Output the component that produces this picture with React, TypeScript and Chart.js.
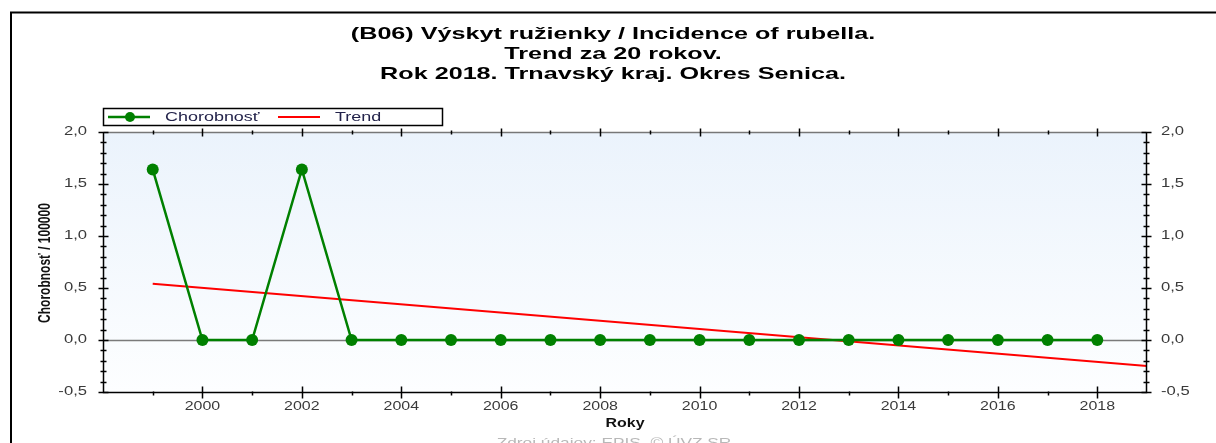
import React, { useEffect, useRef } from "react";
import { Chart, registerables } from "chart.js";

Chart.register(...registerables);

const titleLines = [
  "(B06) Výskyt ružienky / Incidence of rubella.",
  "Trend za 20 rokov.",
  "Rok 2018. Trnavský kraj. Okres Senica.",
];
const years = [1999, 2000, 2001, 2002, 2003, 2004, 2005, 2006, 2007, 2008, 2009, 2010, 2011, 2012, 2013, 2014, 2015, 2016, 2017, 2018];
const incidence = [1.64, 0, 0, 1.64, 0, 0, 0, 0, 0, 0, 0, 0, 0, 0, 0, 0, 0, 0, 0, 0];
const trendYears = [1999, 2019];
const trendValues = [0.54, -0.25];
const seriesLabels = ["Chorobnosť", "Trend"];
const xAxisTitle = "Roky";
const yAxisTitle = "Chorobnosť / 100000";
const sourceText = "Zdroj údajov: EPIS, © ÚVZ SR";

const SX = 1.33;
const FONT = "'Liberation Sans', Arial, sans-serif";
const GREEN = "#008000";
const RED = "#ff0000";

function stretchedText(ctx: CanvasRenderingContext2D, text: string, x: number, y: number, font: string, color: string, align: CanvasTextAlign, baseline: CanvasTextBaseline, sx: number = SX) {
  ctx.save();
  ctx.font = font;
  ctx.fillStyle = color;
  ctx.textAlign = align;
  ctx.textBaseline = baseline;
  ctx.translate(x, y);
  ctx.scale(sx, 1);
  ctx.fillText(text, 0, 0);
  ctx.restore();
}

const fmt = (v: number) => v.toFixed(1).replace(".", ",");

const decorPlugin = {
  id: "decor",
  beforeDatasetsDraw(chart: any) {
    const { ctx, chartArea: a } = chart;
    const y = chart.scales.y;
    ctx.save();
    const g = ctx.createLinearGradient(0, a.top, 0, a.bottom);
    g.addColorStop(0, "#ebf3fc");
    g.addColorStop(1, "#fdfeff");
    ctx.fillStyle = g;
    ctx.fillRect(a.left, a.top, a.right - a.left, a.bottom - a.top);
    const y0 = Math.round(y.getPixelForValue(0)) + 0.5;
    ctx.strokeStyle = "#7a7a7a";
    ctx.lineWidth = 1.5;
    ctx.beginPath();
    ctx.moveTo(a.left, y0);
    ctx.lineTo(a.right, y0);
    ctx.stroke();
    ctx.restore();
  },
  afterDraw(chart: any) {
    const { ctx, chartArea: a } = chart;
    const xs = chart.scales.x;
    const ys = chart.scales.y;
    ctx.save();
    ctx.strokeStyle = "#000";
    ctx.lineWidth = 2;
    ctx.beginPath();
    ctx.moveTo(11, 460);
    ctx.lineTo(11, 12.5);
    ctx.lineTo(1230, 12.5);
    ctx.stroke();

    const L = Math.round(a.left) + 0.5;
    const R = Math.round(a.right) - 0.5;
    const T = Math.round(a.top) + 0.5;
    const B = Math.round(a.bottom) + 0.5;
    ctx.lineWidth = 1.5;
    ctx.strokeStyle = "#777";
    ctx.beginPath();
    ctx.moveTo(L, T);
    ctx.lineTo(R, T);
    ctx.stroke();
    ctx.strokeStyle = "#000";
    ctx.beginPath();
    ctx.moveTo(L, T);
    ctx.lineTo(L, B);
    ctx.lineTo(R, B);
    ctx.lineTo(R, T);
    ctx.stroke();

    ctx.lineWidth = 1.5;
    ctx.strokeStyle = "#000";
    for (let k = -5; k <= 20; k++) {
      const v = k / 10;
      const py = Math.round(ys.getPixelForValue(v)) + 0.5;
      const major = k % 5 === 0;
      const len = major ? 5 : 3;
      ctx.beginPath();
      ctx.moveTo(L - len, py);
      ctx.lineTo(L + len, py);
      ctx.moveTo(R - len, py);
      ctx.lineTo(R + len, py);
      ctx.stroke();
    }
    for (let yr = 1999; yr <= 2018; yr++) {
      const px = Math.round(xs.getPixelForValue(yr)) + 0.5;
      const major = yr % 2 === 0;
      ctx.beginPath();
      if (major) {
        ctx.moveTo(px, B - 6);
        ctx.lineTo(px, B + 6);
        ctx.moveTo(px, T - 4);
        ctx.lineTo(px, T + 4);
      } else {
        ctx.moveTo(px, B - 1);
        ctx.lineTo(px, B + 3);
        ctx.moveTo(px, T - 2);
        ctx.lineTo(px, T + 2);
      }
      ctx.stroke();
    }
    ctx.restore();

    const tickColor = "#3a3a3a";
    ys.ticks.forEach((t: any) => {
      const py = ys.getPixelForValue(t.value);
      stretchedText(ctx, fmt(t.value), a.left - 16, py, `12.5px ${FONT}`, tickColor, "right", "middle");
      stretchedText(ctx, fmt(t.value), a.right + 14, py, `12.5px ${FONT}`, tickColor, "left", "middle");
    });
    xs.ticks.forEach((t: any) => {
      const v = t.value;
      if (v % 2 !== 0 || v < 2000 || v > 2018) return;
      stretchedText(ctx, String(v), xs.getPixelForValue(v), a.bottom + 9, `12px ${FONT}`, tickColor, "center", "top");
    });

    stretchedText(ctx, xAxisTitle, (a.left + a.right) / 2, a.bottom + 26, `bold 12px ${FONT}`, "#111", "center", "top");
    ctx.save();
    ctx.font = `bold 12px ${FONT}`;
    ctx.fillStyle = "#111";
    ctx.textAlign = "center";
    ctx.textBaseline = "middle";
    ctx.translate(46, 263);
    ctx.scale(SX, 1);
    ctx.rotate(-Math.PI / 2);
    ctx.fillText(yAxisTitle, 0, 0);
    ctx.restore();

    titleLines.forEach((line, i) => {
      stretchedText(ctx, line, 613, 39 + i * 20, `bold 17px ${FONT}`, "#000", "center", "alphabetic", 1.48);
    });

    ctx.save();
    ctx.fillStyle = "#fff";
    ctx.fillRect(103.5, 108.5, 339, 17);
    ctx.strokeStyle = "#000";
    ctx.lineWidth = 1.5;
    ctx.strokeRect(103.5, 108.5, 339, 17);
    const ly = 117;
    ctx.strokeStyle = GREEN;
    ctx.lineWidth = 2.5;
    ctx.beginPath();
    ctx.moveTo(108, ly);
    ctx.lineTo(150, ly);
    ctx.stroke();
    ctx.fillStyle = GREEN;
    ctx.beginPath();
    ctx.arc(130, ly, 5, 0, Math.PI * 2);
    ctx.fill();
    ctx.strokeStyle = RED;
    ctx.lineWidth = 2;
    ctx.beginPath();
    ctx.moveTo(278, ly);
    ctx.lineTo(320, ly);
    ctx.stroke();
    ctx.restore();
    stretchedText(ctx, seriesLabels[0], 165, ly, `13.5px ${FONT}`, "#22224a", "left", "middle");
    stretchedText(ctx, seriesLabels[1], 335, ly, `13.5px ${FONT}`, "#22224a", "left", "middle");

    stretchedText(ctx, sourceText, 614, 437, `13px ${FONT}`, "#b8b8b8", "center", "top");
  },
};

export default function App() {
  const ref = useRef<HTMLCanvasElement>(null);
  useEffect(() => {
    document.body.style.margin = "0";
    const chart = new Chart(ref.current as HTMLCanvasElement, {
      type: "line",
      data: {
        datasets: [
          {
            label: seriesLabels[0],
            data: years.map((x, i) => ({ x, y: incidence[i] })),
            borderColor: GREEN,
            backgroundColor: GREEN,
            borderWidth: 2.5,
            pointRadius: 6,
            pointBorderWidth: 0,
            pointBackgroundColor: GREEN,
            tension: 0,
            yAxisID: "y",
          },
          {
            label: seriesLabels[1],
            data: trendYears.map((x, i) => ({ x, y: trendValues[i] })),
            borderColor: RED,
            borderWidth: 2,
            pointRadius: 0,
            tension: 0,
            yAxisID: "y",
          },
        ],
      },
      options: {
        animation: false,
        responsive: false,
        events: [],
        layout: { padding: { top: 132, left: 0, right: 0, bottom: 0 } },
        plugins: { legend: { display: false }, tooltip: { enabled: false }, title: { display: false } },
        scales: {
          x: {
            type: "linear",
            min: 1998,
            max: 2019,
            ticks: { stepSize: 1, display: false },
            grid: { display: false, drawTicks: false },
            border: { display: false },
            afterFit: (s: any) => { s.height = 51; },
          },
          y: {
            position: "left",
            min: -0.5,
            max: 2,
            ticks: { stepSize: 0.5, display: false },
            grid: { display: false, drawTicks: false },
            border: { display: false },
            afterFit: (s: any) => { s.width = 103; },
          },
          y2: {
            position: "right",
            min: -0.5,
            max: 2,
            ticks: { stepSize: 0.5, display: false },
            grid: { display: false, drawTicks: false },
            border: { display: false },
            afterFit: (s: any) => { s.width = 69; },
          },
        },
      } as any,
      plugins: [decorPlugin],
    });
    return () => chart.destroy();
  }, []);
  return (
    <div style={{ position: "fixed", left: 0, top: 0, width: 1216, height: 443, background: "#fff" }}>
      <canvas ref={ref} width={1216} height={443} style={{ width: 1216, height: 443, display: "block" }} />
    </div>
  );
}
